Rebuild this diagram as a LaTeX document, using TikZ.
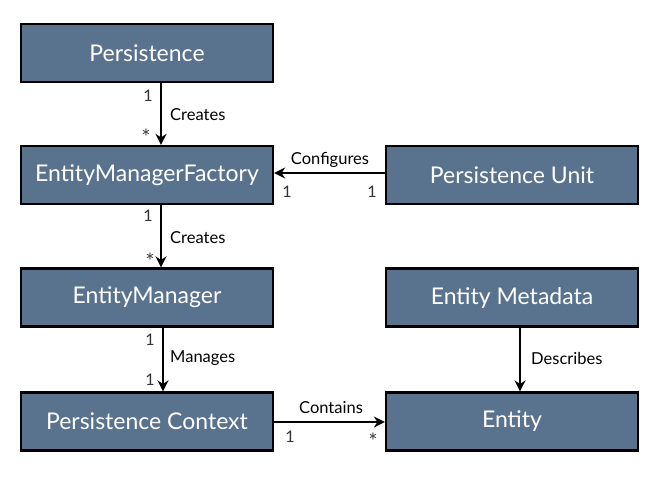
\documentclass[tikz,border=0pt]{standalone}
\usepackage{fontspec}
\setmainfont{Lato}
\usetikzlibrary{arrows.meta}
\definecolor{boxfill}{HTML}{59738F}
\tikzset{
  x=1pt, y=-1pt,
  umlbox/.style={draw=black, line width=2.2pt, fill=boxfill, text=white,
    minimum width=252pt, minimum height=58pt, inner sep=0pt,
    font=\fontsize{23}{27}\selectfont},
  conn/.style={line width=2.4pt, -{Stealth[length=11pt,width=11pt]}},
  lbl/.style={font=\fontsize{16.5}{19}\selectfont, text=black, inner sep=0pt},
  mult/.style={font=\fontsize{16}{19}\selectfont, text=black!80, inner sep=0pt},
  star/.style={font=\fontsize{22}{24}\selectfont, text=black!75, inner sep=0pt}
}
\begin{document}
\begin{tikzpicture}
\useasboundingbox (0,0) rectangle (668,476);
\node[umlbox] (pers) at (147,53) {Persistence};
\node[umlbox] (emf) at (147,175) {EntityManagerFactory};
\node[umlbox] (pu) at (512,175) {Persistence Unit};
\node[umlbox] (em) at (147,297.5) {EntityManager};
\node[umlbox] (meta) at (512,297.5) {Entity Metadata};
\node[umlbox] (pc) at (147,421.5) {Persistence Context};
\node[umlbox] (ent) at (512,421.5) {Entity};

\draw[conn] (pers.south -| 161,0) -- (emf.north -| 161,0);
\node[mult] at (148,96) {1};
\node[lbl, anchor=west] at (170,115) {Creates};
\node[star] at (146,137) {*};

\draw[conn] (pu.west |- 0,173) -- (emf.east |- 0,173);
\node[lbl] at (330,160) {Configures};
\node[mult] at (287,192) {1};
\node[mult] at (372,192) {1};

\draw[conn] (emf.south -| 161,0) -- (em.north -| 161,0);
\node[mult] at (148,216) {1};
\node[lbl, anchor=west] at (170,238) {Creates};
\node[star] at (150,261) {*};

\draw[conn] (em.south -| 163,0) -- (pc.north -| 163,0);
\node[mult] at (150,340) {1};
\node[lbl, anchor=west] at (170,358) {Manages};
\node[mult] at (150,380) {1};

\draw[conn] (meta.south -| 520,0) -- (ent.north -| 520,0);
\node[lbl, anchor=west] at (531,358) {Describes};

\draw[conn] (pc.east |- 0,422) -- (ent.west |- 0,422);
\node[lbl] at (331,408) {Contains};
\node[mult] at (290,437) {1};
\node[star] at (373,441) {*};
\end{tikzpicture}
\end{document}
